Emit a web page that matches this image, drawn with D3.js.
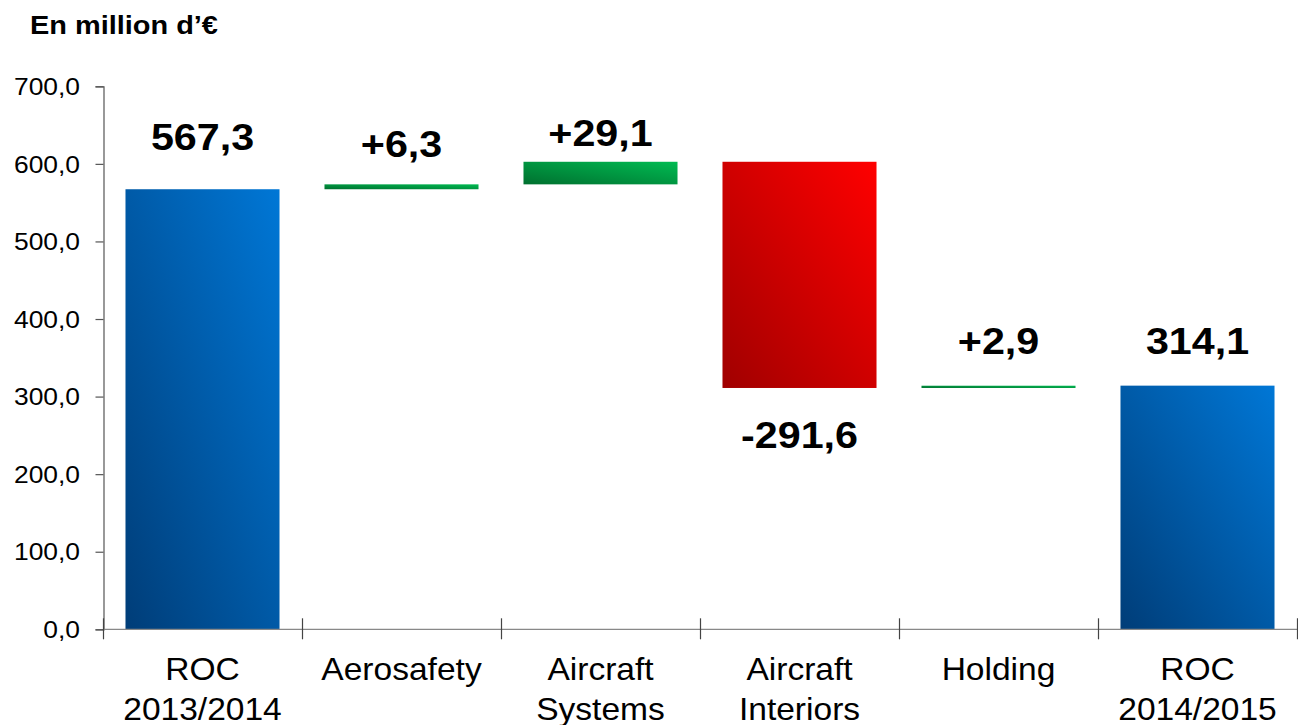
<!DOCTYPE html>
<html><head><meta charset="utf-8">
<script src="https://cdn.jsdelivr.net/npm/d3@7"></script>
<style>body{margin:0;background:#fff}svg{display:block}text{font-family:"Liberation Sans",Arial,sans-serif}</style>
</head><body>
<svg id="c" width="1298" height="725"></svg>
<script>
const categories = [["ROC","2013/2014"],["Aerosafety"],["Aircraft","Systems"],["Aircraft","Interiors"],["Holding"],["ROC","2014/2015"]];
const values = [567.3, 6.3, 29.1, -291.6, 2.9, 314.1];
const kinds = ["total","delta","delta","delta","delta","total"];
const labels = ["567,3","+6,3","+29,1","-291,6","+2,9","314,1"];
const yTicks = [0,100,200,300,400,500,600,700];
const labelDy = [-39,-27,-16,60,-32,-32]; // label offset in px from bar edge

const svg = d3.select("#c");
const SX = 1.1;
const keys = categories.map(c => c.join(" "));
const x = d3.scaleBand().domain(keys).range([103,1297]).paddingInner(0.226).paddingOuter(0.113);
const y = d3.scaleLinear().domain([0,700]).range([629.3,86.3]);

const defs = svg.append("defs");
function grad(id,c0,c1){
  const g = defs.append("linearGradient").attr("id",id).attr("x1",0).attr("y1",1).attr("x2",1).attr("y2",0);
  g.append("stop").attr("offset","0%").attr("stop-color",c0);
  g.append("stop").attr("offset","100%").attr("stop-color",c1);
}
grad("gBlue","#003d78","#0077d6");
grad("gGreen","#00702f","#00bb52");
grad("gRed","#a00000","#ff0000");

// compute waterfall
let run = 0;
const bars = values.map((v,i)=>{
  let lo,hi;
  if(kinds[i]==="total"){ lo=0; hi=v; run=v; }
  else { const s=run; run=run+v; lo=Math.min(s,run); hi=Math.max(s,run); }
  return {key:keys[i], v, lo, hi, kind:kinds[i], label:labels[i], dy:labelDy[i]};
});

// title
svg.append("g").attr("transform","translate(30,34) scale("+SX+",1)")
  .append("text").attr("font-size",26.3).attr("font-weight","bold").attr("fill","#000").text("En million d’€");

// bars
svg.append("g").selectAll("rect").data(bars).join("rect")
  .attr("x",d=>x(d.key)).attr("width",x.bandwidth())
  .attr("y",d=>y(d.hi)).attr("height",d=>Math.max(1,y(d.lo)-y(d.hi)))
  .attr("fill",d=>d.kind==="total"?"url(#gBlue)":(d.v>=0?"url(#gGreen)":"url(#gRed)"));

// y axis
const yAxis = svg.append("g").attr("transform","translate(103.5,0)")
  .call(d3.axisLeft(y).tickValues(yTicks).tickSize(8).tickPadding(16).tickFormat(d=>d3.format(".1f")(d).replace(".",",")));
yAxis.select(".domain").attr("stroke","#555").attr("stroke-width",1.2);
yAxis.selectAll(".tick line").attr("stroke","#555").attr("stroke-width",1.2);
yAxis.selectAll(".tick text").each(function(){
  const t=d3.select(this); t.attr("font-size",24).attr("fill","#000").attr("font-family","Liberation Sans, Arial, sans-serif")
   .attr("transform","scale("+SX+",1)").attr("x",-23.5/SX);
});
yAxis.selectAll(".tick text").attr("dy","0.34em");

// x axis
const step = x.step();
const xb = svg.append("g");
xb.append("line").attr("x1",103).attr("x2",1297).attr("y1",y(0)).attr("y2",y(0)).attr("stroke","#888").attr("stroke-width",1.3);
xb.selectAll("line.tk").data(d3.range(keys.length+1)).join("line").attr("class","tk")
  .attr("x1",i=>103.5+i*step).attr("x2",i=>103.5+i*step)
  .attr("y1",y(0)-11).attr("y2",y(0)+10).attr("stroke","#444").attr("stroke-width",1.2);

// category labels
categories.forEach((c,i)=>{
  const cx = x(keys[i])+x.bandwidth()/2;
  const g = svg.append("g").attr("transform","translate("+cx+",680) scale("+SX+",1)");
  const t = g.append("text").attr("text-anchor","middle").attr("font-size",30.5).attr("fill","#000");
  c.forEach((line,j)=>t.append("tspan").attr("x",0).attr("y",j*40).text(line));
});

// value labels
bars.forEach(d=>{
  const cx = x(d.key)+x.bandwidth()/2;
  const yy = d.dy<0 ? y(d.hi)+d.dy : y(d.lo)+d.dy;
  svg.append("g").attr("transform","translate("+cx+","+yy+") scale("+SX+",1)")
    .append("text").attr("text-anchor","middle").attr("font-size",37.5).attr("font-weight","bold").attr("fill","#000").text(d.label);
});
</script>
</body></html>
